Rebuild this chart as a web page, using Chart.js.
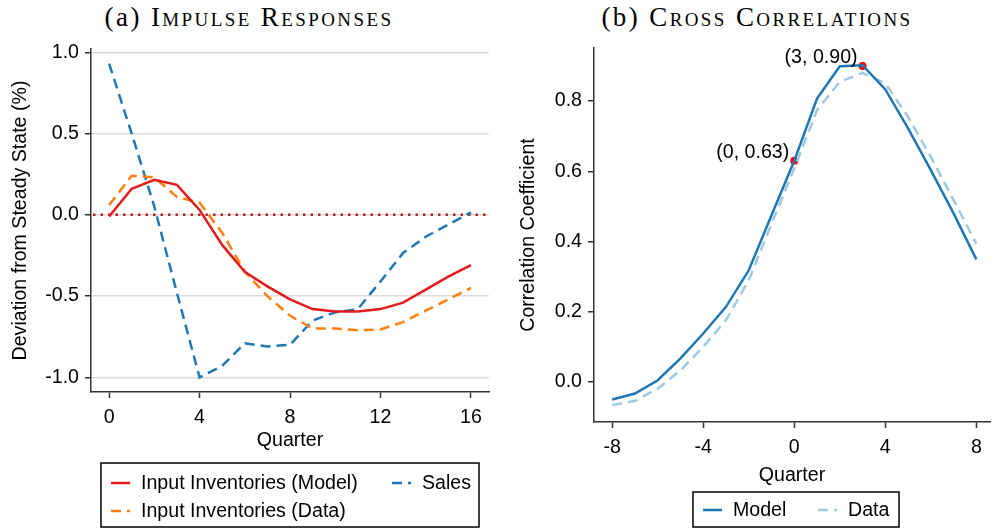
<!DOCTYPE html>
<html>
<head>
<meta charset="utf-8">
<script src="https://cdn.jsdelivr.net/npm/chart.js@4.4.1/dist/chart.umd.min.js"></script>
<style>
  body { margin: 0; background: #fff; width: 994px; height: 529px; position: relative; overflow: hidden; }
  .panel { position: absolute; top: 0; width: 497px; height: 529px; }
  .ttl { position: absolute; top: 2px; font-family: 'Liberation Serif', serif; font-variant: small-caps;
         font-size: 27px; letter-spacing: 2.4px; color: #000; white-space: nowrap; transform: translateX(-50%); }
  .ttl span { font-variant: normal; }
</style>
</head>
<body>
<div class="ttl" style="left:249px"><span>(a)</span> Impulse Responses</div>
<div class="ttl" style="left:757px"><span>(b)</span> Cross Correlations</div>
<div class="panel" style="left:0"><canvas id="irf"></canvas></div>
<div class="panel" style="left:497px"><canvas id="xcorr"></canvas></div>
<script>
// panel (a): impulse responses, quarters 0..16
const quarters = [0, 1, 2, 3, 4, 5, 6, 7, 8, 9, 10, 11, 12, 13, 14, 15, 16];
const invModel = [-0.01, 0.16, 0.215, 0.184, 0.03, -0.185, -0.35, -0.44, -0.52, -0.58, -0.595, -0.595, -0.58, -0.54, -0.46, -0.38, -0.31];
const invData  = [0.06, 0.24, 0.23, 0.11, 0.075, -0.11, -0.35, -0.50, -0.62, -0.70, -0.70, -0.71, -0.705, -0.66, -0.59, -0.52, -0.45];
const sales    = [0.93, 0.50, 0.05, -0.48, -1.0, -0.93, -0.79, -0.81, -0.80, -0.65, -0.60, -0.58, -0.41, -0.235, -0.135, -0.06, 0.015];
const irfXTicks = [0, 4, 8, 12, 16];
const irfYTicks = [-1.0, -0.5, 0.0, 0.5, 1.0];

// panel (b): cross correlations, lags -8..8
const lags = [-8, -7, -6, -5, -4, -3, -2, -1, 0, 1, 2, 3, 4, 5, 6, 7, 8];
const corrModel = [-0.05, -0.033, 0.005, 0.067, 0.138, 0.214, 0.318, 0.475, 0.63, 0.807, 0.899, 0.902, 0.833, 0.722, 0.603, 0.48, 0.349];
const corrData  = [-0.066, -0.054, -0.019, 0.033, 0.10, 0.176, 0.29, 0.45, 0.608, 0.774, 0.855, 0.88, 0.85, 0.755, 0.641, 0.518, 0.394];
const markLags = [0, 3];
const markVals = [0.63, 0.90];
const corrXTicks = [-8, -4, 0, 4, 8];
const corrYTicks = [0.0, 0.2, 0.4, 0.6, 0.8];

const FONT = "'Liberation Sans', Arial, sans-serif";
const FS = 19.6;
Chart.defaults.font.family = FONT;
Chart.defaults.font.size = FS;
Chart.defaults.color = '#000';

const pts = (xs, ys) => xs.map((x, i) => ({ x: x, y: ys[i] }));

// dotted zero line across the plot
const zeroLine = {
  id: 'zeroLine',
  beforeDatasetsDraw(chart, args, opts) {
    if (!opts.show) return;
    const { ctx, chartArea: a } = chart;
    const y = chart.scales.y.getPixelForValue(0);
    ctx.save();
    ctx.strokeStyle = opts.color;
    ctx.lineWidth = opts.width;
    ctx.setLineDash(opts.dash);
    ctx.beginPath();
    ctx.moveTo(a.left + 2, y);
    ctx.lineTo(a.right, y);
    ctx.stroke();
    ctx.restore();
  }
};

// framed legend placed by hand
const boxLegend = {
  id: 'boxLegend',
  afterDraw(chart, args, opts) {
    if (!opts.box) return;
    const ctx = chart.ctx;
    const [bx, by, bw, bh] = opts.box;
    ctx.save();
    ctx.strokeStyle = '#000';
    ctx.lineWidth = 1.5;
    ctx.strokeRect(bx, by, bw, bh);
    ctx.font = FS + 'px ' + FONT;
    ctx.textBaseline = 'middle';
    ctx.fillStyle = '#000';
    opts.items.forEach(it => {
      const ds = chart.data.datasets[it.ds];
      ctx.strokeStyle = ds.borderColor;
      ctx.lineWidth = ds.borderWidth;
      ctx.setLineDash(ds.borderDash || []);
      ctx.beginPath();
      ctx.moveTo(it.x, it.y);
      ctx.lineTo(it.x + 19, it.y);
      ctx.stroke();
      ctx.setLineDash([]);
      ctx.fillText(ds.label, it.x + 30, it.y + 1);
    });
    ctx.restore();
  }
};

// text next to the highlighted points
const pointLabels = {
  id: 'pointLabels',
  afterDatasetsDraw(chart, args, opts) {
    if (opts.ds === undefined) return;
    const ctx = chart.ctx;
    const meta = chart.getDatasetMeta(opts.ds);
    const data = chart.data.datasets[opts.ds].data;
    ctx.save();
    ctx.font = FS + 'px ' + FONT;
    ctx.fillStyle = '#000';
    ctx.textAlign = 'right';
    ctx.textBaseline = 'alphabetic';
    meta.data.forEach((el, i) => {
      const d = data[i];
      ctx.fillText('(' + d.x + ', ' + d.y.toFixed(2) + ')', el.x - 5, el.y - 3);
    });
    ctx.restore();
  }
};

const axisColor = '#333';

function xAxis(min, max, ticks, height) {
  return {
    type: 'linear', min: min, max: max,
    afterBuildTicks: s => { s.ticks = ticks.map(v => ({ value: v })); },
    // keep the plot edges where the layout puts them (no room reserved for edge labels)
    afterFit: s => { s.height = height; s.paddingLeft = 0; s.paddingRight = 0; },
    grid: { drawOnChartArea: false, tickColor: axisColor, tickWidth: 1.5, tickLength: 6 },
    border: { color: axisColor, width: 1.5 },
    ticks: { padding: 8, callback: v => String(v) },
    title: { display: true, text: 'Quarter', padding: { top: 0, bottom: 4 } }
  };
}

function yAxis(min, max, ticks, width, title, titlePad, gridOn) {
  return {
    min: min, max: max,
    afterBuildTicks: s => { s.ticks = ticks.map(v => ({ value: v })); },
    afterFit: s => { s.width = width; s.paddingTop = 0; s.paddingBottom = 0; },
    grid: { drawOnChartArea: gridOn, color: '#dcdcdc', lineWidth: 1.5, tickColor: axisColor, tickWidth: 1.5, tickLength: 6 },
    border: { color: axisColor, width: 1.5 },
    ticks: { padding: 6, callback: v => v.toFixed(1) },
    title: { display: true, text: title, padding: { top: titlePad, bottom: 0 } }
  };
}

const lineDefaults = { pointRadius: 0, tension: 0, fill: false, borderWidth: 2.5 };

new Chart(document.getElementById('irf'), {
  type: 'line',
  data: {
    datasets: [
      Object.assign({ label: 'Input Inventories (Model)', data: pts(quarters, invModel), borderColor: '#e41a1c' }, lineDefaults),
      Object.assign({ label: 'Input Inventories (Data)', data: pts(quarters, invData), borderColor: '#ff7f0e', borderDash: [10, 6] }, lineDefaults),
      Object.assign({ label: 'Sales', data: pts(quarters, sales), borderColor: '#1f77b4', borderDash: [10, 6] }, lineDefaults)
    ]
  },
  options: {
    responsive: true, maintainAspectRatio: false, animation: false, devicePixelRatio: 1,
    layout: { padding: { top: 49, right: 8, bottom: 73, left: 0 } },
    scales: {
      x: xAxis(-0.8, 16.8, irfXTicks, 64),
      y: yAxis(-1.09, 1.02, irfYTicks, 91, 'Deviation from Steady State (%)', 9, true)
    },
    plugins: {
      legend: { display: false }, tooltip: { enabled: false },
      zeroLine: { show: true, color: '#b22222', width: 2.5, dash: [2.5, 5] },
      boxLegend: {
        box: [101, 463, 378, 64],
        items: [{ ds: 0, x: 111, y: 483 }, { ds: 2, x: 392, y: 483 }, { ds: 1, x: 111, y: 511 }]
      }
    }
  },
  plugins: [zeroLine, boxLegend]
});

new Chart(document.getElementById('xcorr'), {
  type: 'line',
  data: {
    datasets: [
      Object.assign({ label: 'Model', data: pts(lags, corrModel), borderColor: '#1f77b4' }, lineDefaults),
      Object.assign({ label: 'Data', data: pts(lags, corrData), borderColor: '#9ecae1', borderDash: [10, 6] }, lineDefaults),
      { label: 'marks', data: pts(markLags, markVals), showLine: false, pointRadius: 4,
        pointBackgroundColor: '#ff0000', pointBorderColor: '#ff0000', pointBorderWidth: 0 }
    ]
  },
  options: {
    responsive: true, maintainAspectRatio: false, animation: false, devicePixelRatio: 1,
    layout: { padding: { top: 48, right: 1, bottom: 38, left: 0 } },
    scales: {
      x: xAxis(-8.8, 8.6, corrXTicks, 69),
      y: yAxis(-0.114, 0.951, corrYTicks, 97, 'Correlation Coefficient', 20, false)
    },
    plugins: {
      legend: { display: false }, tooltip: { enabled: false },
      pointLabels: { ds: 2 },
      boxLegend: {
        box: [196, 492, 206, 35],
        items: [{ ds: 0, x: 206, y: 510 }, { ds: 1, x: 321, y: 510 }]
      }
    }
  },
  plugins: [pointLabels, boxLegend]
});
</script>
</body>
</html>
